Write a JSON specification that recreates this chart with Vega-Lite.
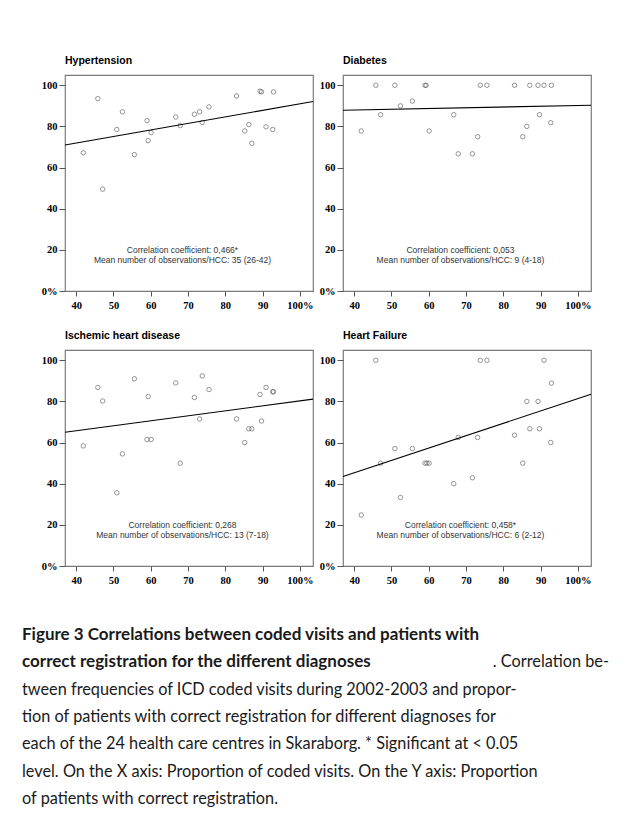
{
  "$schema": "https://vega.github.io/schema/vega-lite/v6.json",
  "background": "white",
  "padding": {"left": 22, "top": 54, "right": 10, "bottom": 5},
  "datasets": {
    "pts": [
      {"diagnosis":"Hypertension","x":41.9,"y":67.2},{"diagnosis":"Hypertension","x":45.8,"y":93.5},{"diagnosis":"Hypertension","x":47.1,"y":49.5},{"diagnosis":"Hypertension","x":50.9,"y":78.5},{"diagnosis":"Hypertension","x":52.4,"y":87.1},{"diagnosis":"Hypertension","x":55.6,"y":66.3},{"diagnosis":"Hypertension","x":59.0,"y":82.8},{"diagnosis":"Hypertension","x":59.3,"y":73.1},{"diagnosis":"Hypertension","x":60.1,"y":77.0},{"diagnosis":"Hypertension","x":66.7,"y":84.6},{"diagnosis":"Hypertension","x":67.9,"y":80.4},{"diagnosis":"Hypertension","x":71.7,"y":85.9},{"diagnosis":"Hypertension","x":73.1,"y":87.1},{"diagnosis":"Hypertension","x":73.8,"y":81.9},{"diagnosis":"Hypertension","x":75.6,"y":89.5},{"diagnosis":"Hypertension","x":83.0,"y":94.8},{"diagnosis":"Hypertension","x":85.2,"y":77.8},{"diagnosis":"Hypertension","x":86.3,"y":80.9},{"diagnosis":"Hypertension","x":87.1,"y":71.8},{"diagnosis":"Hypertension","x":89.3,"y":97.1},{"diagnosis":"Hypertension","x":89.7,"y":96.8},{"diagnosis":"Hypertension","x":90.9,"y":79.8},{"diagnosis":"Hypertension","x":92.7,"y":78.5},{"diagnosis":"Hypertension","x":92.9,"y":96.8},
      {"diagnosis":"Diabetes","x":41.9,"y":77.8},{"diagnosis":"Diabetes","x":45.8,"y":100},{"diagnosis":"Diabetes","x":47.1,"y":85.7},{"diagnosis":"Diabetes","x":50.9,"y":100},{"diagnosis":"Diabetes","x":52.4,"y":90.0},{"diagnosis":"Diabetes","x":55.6,"y":92.3},{"diagnosis":"Diabetes","x":59.0,"y":100},{"diagnosis":"Diabetes","x":59.3,"y":100},{"diagnosis":"Diabetes","x":60.1,"y":77.8},{"diagnosis":"Diabetes","x":66.7,"y":85.7},{"diagnosis":"Diabetes","x":67.9,"y":66.7},{"diagnosis":"Diabetes","x":71.7,"y":66.7},{"diagnosis":"Diabetes","x":73.1,"y":75.0},{"diagnosis":"Diabetes","x":73.8,"y":100},{"diagnosis":"Diabetes","x":75.6,"y":100},{"diagnosis":"Diabetes","x":83.0,"y":100},{"diagnosis":"Diabetes","x":85.2,"y":75.0},{"diagnosis":"Diabetes","x":86.3,"y":80.0},{"diagnosis":"Diabetes","x":87.1,"y":100},{"diagnosis":"Diabetes","x":89.3,"y":100},{"diagnosis":"Diabetes","x":89.7,"y":85.7},{"diagnosis":"Diabetes","x":90.9,"y":100},{"diagnosis":"Diabetes","x":92.7,"y":81.8},{"diagnosis":"Diabetes","x":92.9,"y":100},
      {"diagnosis":"Ischemic heart disease","x":41.9,"y":58.4},{"diagnosis":"Ischemic heart disease","x":45.8,"y":86.8},{"diagnosis":"Ischemic heart disease","x":47.1,"y":80.2},{"diagnosis":"Ischemic heart disease","x":50.9,"y":35.6},{"diagnosis":"Ischemic heart disease","x":52.4,"y":54.5},{"diagnosis":"Ischemic heart disease","x":55.6,"y":91.0},{"diagnosis":"Ischemic heart disease","x":59.0,"y":61.5},{"diagnosis":"Ischemic heart disease","x":59.3,"y":82.4},{"diagnosis":"Ischemic heart disease","x":60.1,"y":61.5},{"diagnosis":"Ischemic heart disease","x":66.7,"y":89.0},{"diagnosis":"Ischemic heart disease","x":67.9,"y":50.0},{"diagnosis":"Ischemic heart disease","x":71.7,"y":81.9},{"diagnosis":"Ischemic heart disease","x":73.1,"y":71.5},{"diagnosis":"Ischemic heart disease","x":73.8,"y":92.4},{"diagnosis":"Ischemic heart disease","x":75.6,"y":85.8},{"diagnosis":"Ischemic heart disease","x":83.0,"y":71.5},{"diagnosis":"Ischemic heart disease","x":85.2,"y":60.0},{"diagnosis":"Ischemic heart disease","x":86.3,"y":66.7},{"diagnosis":"Ischemic heart disease","x":87.1,"y":66.7},{"diagnosis":"Ischemic heart disease","x":89.3,"y":83.4},{"diagnosis":"Ischemic heart disease","x":89.7,"y":70.5},{"diagnosis":"Ischemic heart disease","x":90.9,"y":86.8},{"diagnosis":"Ischemic heart disease","x":92.7,"y":84.7},{"diagnosis":"Ischemic heart disease","x":92.9,"y":84.7},
      {"diagnosis":"Heart Failure","x":41.9,"y":24.8},{"diagnosis":"Heart Failure","x":45.8,"y":100},{"diagnosis":"Heart Failure","x":47.1,"y":50.0},{"diagnosis":"Heart Failure","x":50.9,"y":57.1},{"diagnosis":"Heart Failure","x":52.4,"y":33.3},{"diagnosis":"Heart Failure","x":55.6,"y":57.1},{"diagnosis":"Heart Failure","x":59.0,"y":50.0},{"diagnosis":"Heart Failure","x":59.5,"y":50.0},{"diagnosis":"Heart Failure","x":60.1,"y":50.0},{"diagnosis":"Heart Failure","x":66.7,"y":40.0},{"diagnosis":"Heart Failure","x":67.9,"y":62.5},{"diagnosis":"Heart Failure","x":71.7,"y":42.9},{"diagnosis":"Heart Failure","x":73.1,"y":62.5},{"diagnosis":"Heart Failure","x":73.8,"y":100},{"diagnosis":"Heart Failure","x":75.6,"y":100},{"diagnosis":"Heart Failure","x":83.0,"y":63.6},{"diagnosis":"Heart Failure","x":85.2,"y":50.0},{"diagnosis":"Heart Failure","x":86.3,"y":80.0},{"diagnosis":"Heart Failure","x":87.1,"y":66.7},{"diagnosis":"Heart Failure","x":89.3,"y":80.0},{"diagnosis":"Heart Failure","x":89.7,"y":66.7},{"diagnosis":"Heart Failure","x":90.9,"y":100},{"diagnosis":"Heart Failure","x":92.7,"y":60.0},{"diagnosis":"Heart Failure","x":92.9,"y":88.9}
    ],
    "fits": [
      {"diagnosis":"Hypertension","x":37,"y":71.0},{"diagnosis":"Hypertension","x":103.5,"y":92.1},
      {"diagnosis":"Diabetes","x":37,"y":87.9},{"diagnosis":"Diabetes","x":103.5,"y":90.3},
      {"diagnosis":"Ischemic heart disease","x":37,"y":65.0},{"diagnosis":"Ischemic heart disease","x":103.5,"y":81.1},
      {"diagnosis":"Heart Failure","x":37,"y":43.5},{"diagnosis":"Heart Failure","x":103.5,"y":83.5}
    ],
    "notes": [
      {"diagnosis":"Hypertension","x":68.5,"y":19.7,"text":"Correlation coefficient:  0,466*"},
      {"diagnosis":"Hypertension","x":68.5,"y":15.0,"text":"Mean number of observations/HCC: 35 (26-42)"},
      {"diagnosis":"Diabetes","x":68.5,"y":19.7,"text":"Correlation coefficient:  0,053"},
      {"diagnosis":"Diabetes","x":68.5,"y":15.0,"text":"Mean number of observations/HCC: 9 (4-18)"},
      {"diagnosis":"Ischemic heart disease","x":68.5,"y":19.7,"text":"Correlation coefficient:  0,268"},
      {"diagnosis":"Ischemic heart disease","x":68.5,"y":15.0,"text":"Mean number of observations/HCC: 13 (7-18)"},
      {"diagnosis":"Heart Failure","x":68.5,"y":19.7,"text":"Correlation coefficient:  0,458*"},
      {"diagnosis":"Heart Failure","x":68.5,"y":15.0,"text":"Mean number of observations/HCC: 6 (2-12)"}
    ],
    "caption": [
      {"line":1,"segment":"heading","text":"Figure 3 Correlations between coded visits and patients with"},
      {"line":2,"segment":"heading","text":"correct registration for the different diagnoses"},
      {"line":2,"segment":"tail","text":". Correlation be-"},
      {"line":3,"segment":"body","text":"tween frequencies of ICD coded visits during 2002-2003 and propor-"},
      {"line":4,"segment":"body","text":"tion of patients with correct registration for different diagnoses for"},
      {"line":5,"segment":"body","text":"each of the 24 health care centres in Skaraborg. * Significant at < 0.05"},
      {"line":6,"segment":"body","text":"level. On the X axis: Proportion of coded visits. On the Y axis: Proportion"},
      {"line":7,"segment":"body","text":"of patients with correct registration."}
    ]
  },
  "spacing": 39,
  "vconcat": [
    {
      "spacing": 17,
      "vconcat": [
        {
          "bounds": "flush",
          "spacing": 30,
          "hconcat": [
            {
              "title": "Hypertension",
              "width": 248, "height": 216,
              "layer": [
                {"data": {"name": "pts"}, "transform": [{"filter": "datum.diagnosis === 'Hypertension'"}],
                 "mark": {"type": "point", "shape": "circle", "filled": false, "size": 20, "color": "#444", "strokeWidth": 0.8},
                 "encoding": {
                   "x": {"field": "x", "type": "quantitative", "scale": {"domain": [37, 103.5], "nice": false, "zero": false}, "axis": {"values": [40,50,60,70,80,90,100], "labelExpr": "datum.value == 100 ? '100%' : datum.label"}},
                   "y": {"field": "y", "type": "quantitative", "scale": {"domain": [0, 105], "nice": false}, "axis": {"values": [0,20,40,60,80,100], "labelExpr": "datum.value == 0 ? '0%' : datum.label"}}
                 }},
                {"data": {"name": "fits"}, "transform": [{"filter": "datum.diagnosis === 'Hypertension'"}],
                 "mark": {"type": "line", "color": "#000", "strokeWidth": 1.1},
                 "encoding": {"x": {"field": "x", "type": "quantitative"}, "y": {"field": "y", "type": "quantitative"}}},
                {"data": {"name": "notes"}, "transform": [{"filter": "datum.diagnosis === 'Hypertension'"}],
                 "mark": {"type": "text", "font": "Liberation Sans", "fontSize": 8.5, "color": "#333", "align": "center", "baseline": "middle"},
                 "encoding": {"x": {"field": "x", "type": "quantitative"}, "y": {"field": "y", "type": "quantitative"}, "text": {"field": "text"}}}
              ]
            },
            {
              "title": "Diabetes",
              "width": 248, "height": 216,
              "layer": [
                {"data": {"name": "pts"}, "transform": [{"filter": "datum.diagnosis === 'Diabetes'"}],
                 "mark": {"type": "point", "shape": "circle", "filled": false, "size": 20, "color": "#444", "strokeWidth": 0.8},
                 "encoding": {
                   "x": {"field": "x", "type": "quantitative", "scale": {"domain": [37, 103.5], "nice": false, "zero": false}, "axis": {"values": [40,50,60,70,80,90,100], "labelExpr": "datum.value == 100 ? '100%' : datum.label"}},
                   "y": {"field": "y", "type": "quantitative", "scale": {"domain": [0, 105], "nice": false}, "axis": {"values": [0,20,40,60,80,100], "labelExpr": "datum.value == 0 ? '0%' : datum.label"}}
                 }},
                {"data": {"name": "fits"}, "transform": [{"filter": "datum.diagnosis === 'Diabetes'"}],
                 "mark": {"type": "line", "color": "#000", "strokeWidth": 1.1},
                 "encoding": {"x": {"field": "x", "type": "quantitative"}, "y": {"field": "y", "type": "quantitative"}}},
                {"data": {"name": "notes"}, "transform": [{"filter": "datum.diagnosis === 'Diabetes'"}],
                 "mark": {"type": "text", "font": "Liberation Sans", "fontSize": 8.5, "color": "#333", "align": "center", "baseline": "middle"},
                 "encoding": {"x": {"field": "x", "type": "quantitative"}, "y": {"field": "y", "type": "quantitative"}, "text": {"field": "text"}}}
              ]
            }
          ]
        },
        {
          "bounds": "flush",
          "spacing": 30,
          "hconcat": [
            {
              "title": "Ischemic heart disease",
              "width": 248, "height": 216,
              "layer": [
                {"data": {"name": "pts"}, "transform": [{"filter": "datum.diagnosis === 'Ischemic heart disease'"}],
                 "mark": {"type": "point", "shape": "circle", "filled": false, "size": 20, "color": "#444", "strokeWidth": 0.8},
                 "encoding": {
                   "x": {"field": "x", "type": "quantitative", "scale": {"domain": [37, 103.5], "nice": false, "zero": false}, "axis": {"values": [40,50,60,70,80,90,100], "labelExpr": "datum.value == 100 ? '100%' : datum.label"}},
                   "y": {"field": "y", "type": "quantitative", "scale": {"domain": [0, 105], "nice": false}, "axis": {"values": [0,20,40,60,80,100], "labelExpr": "datum.value == 0 ? '0%' : datum.label"}}
                 }},
                {"data": {"name": "fits"}, "transform": [{"filter": "datum.diagnosis === 'Ischemic heart disease'"}],
                 "mark": {"type": "line", "color": "#000", "strokeWidth": 1.1},
                 "encoding": {"x": {"field": "x", "type": "quantitative"}, "y": {"field": "y", "type": "quantitative"}}},
                {"data": {"name": "notes"}, "transform": [{"filter": "datum.diagnosis === 'Ischemic heart disease'"}],
                 "mark": {"type": "text", "font": "Liberation Sans", "fontSize": 8.5, "color": "#333", "align": "center", "baseline": "middle"},
                 "encoding": {"x": {"field": "x", "type": "quantitative"}, "y": {"field": "y", "type": "quantitative"}, "text": {"field": "text"}}}
              ]
            },
            {
              "title": "Heart Failure",
              "width": 248, "height": 216,
              "layer": [
                {"data": {"name": "pts"}, "transform": [{"filter": "datum.diagnosis === 'Heart Failure'"}],
                 "mark": {"type": "point", "shape": "circle", "filled": false, "size": 20, "color": "#444", "strokeWidth": 0.8},
                 "encoding": {
                   "x": {"field": "x", "type": "quantitative", "scale": {"domain": [37, 103.5], "nice": false, "zero": false}, "axis": {"values": [40,50,60,70,80,90,100], "labelExpr": "datum.value == 100 ? '100%' : datum.label"}},
                   "y": {"field": "y", "type": "quantitative", "scale": {"domain": [0, 105], "nice": false}, "axis": {"values": [0,20,40,60,80,100], "labelExpr": "datum.value == 0 ? '0%' : datum.label"}}
                 }},
                {"data": {"name": "fits"}, "transform": [{"filter": "datum.diagnosis === 'Heart Failure'"}],
                 "mark": {"type": "line", "color": "#000", "strokeWidth": 1.1},
                 "encoding": {"x": {"field": "x", "type": "quantitative"}, "y": {"field": "y", "type": "quantitative"}}},
                {"data": {"name": "notes"}, "transform": [{"filter": "datum.diagnosis === 'Heart Failure'"}],
                 "mark": {"type": "text", "font": "Liberation Sans", "fontSize": 8.5, "color": "#333", "align": "center", "baseline": "middle"},
                 "encoding": {"x": {"field": "x", "type": "quantitative"}, "y": {"field": "y", "type": "quantitative"}, "text": {"field": "text"}}}
              ]
            }
          ]
        }
      ]
    },
    {
      "width": 544, "height": 164,
      "view": {"stroke": null},
      "data": {"name": "caption"},
      "layer": [
        {"transform": [{"filter": "datum.segment === 'heading'"}],
         "mark": {"type": "text", "font": "Lato", "fontSize": 17, "fontWeight": "bold", "color": "#1a1a1a", "align": "left", "baseline": "alphabetic", "dx": -43},
         "encoding": {"x": {"datum": 0, "type": "quantitative", "scale": {"domain": [0, 1]}, "axis": null}, "y": {"field": "line", "type": "quantitative", "scale": {"domain": [1, 7], "reverse": true, "nice": false}, "axis": null}, "text": {"field": "text"}}},
        {"transform": [{"filter": "datum.segment === 'body'"}],
         "mark": {"type": "text", "font": "Lato", "fontSize": 16.3, "color": "#1a1a1a", "align": "left", "baseline": "alphabetic", "dx": -43},
         "encoding": {"x": {"datum": 0, "type": "quantitative", "scale": {"domain": [0, 1]}, "axis": null}, "y": {"field": "line", "type": "quantitative", "scale": {"domain": [1, 7], "reverse": true, "nice": false}, "axis": null}, "text": {"field": "text"}}},
        {"transform": [{"filter": "datum.segment === 'tail'"}],
         "mark": {"type": "text", "font": "Lato", "fontSize": 16.3, "color": "#1a1a1a", "align": "right", "baseline": "alphabetic"},
         "encoding": {"x": {"datum": 1, "type": "quantitative", "scale": {"domain": [0, 1]}, "axis": null}, "y": {"field": "line", "type": "quantitative", "scale": {"domain": [1, 7], "reverse": true, "nice": false}, "axis": null}, "text": {"field": "text"}}}
      ]
    }
  ],
  "config": {
    "view": {"stroke": "#7a7a7a", "strokeWidth": 1.2},
    "title": {"anchor": "start", "frame": "group", "font": "Liberation Sans", "fontSize": 10.5, "fontWeight": "bold", "color": "#000", "offset": 9},
    "axis": {"domain": false, "grid": false, "title": null, "labelFont": "Liberation Serif", "labelFontWeight": "bold", "labelFontSize": 10.5, "labelColor": "#000", "tickColor": "#555", "tickWidth": 1},
    "axisX": {"tickSize": 5, "labelPadding": 4},
    "axisY": {"tickSize": 6, "labelPadding": 2}
  }
}
